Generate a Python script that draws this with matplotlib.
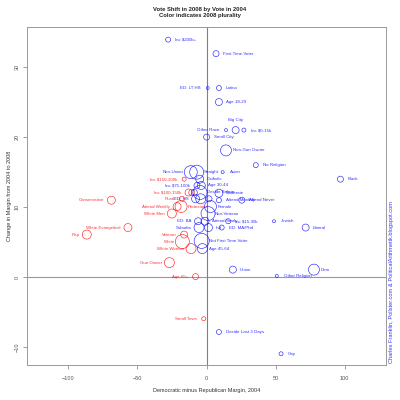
import matplotlib

matplotlib.use("Agg")
import matplotlib.pyplot as plt
import numpy as np

plt.rcParams["font.family"] = ["Liberation Sans", "DejaVu Sans"]

# groups: label, 2004 margin, 2008 shift, circle radius (px), 2008 plurality, label side
labels = [
    "Inc $200k+", "First Time Voter", "ED: LT HS", "Latino", "Age 18-29",
    "Big City", "Other Race", "Inc $0-15k", "Small City", "Non-Gun Owner",
    "No Religion", "Black", "Non-Union", "Straight", "Asian",
    "Inc $150-200k", "Catholic", "Inc $75-100k", "Age 30-44", "Inc $100-150k",
    "", "", "Decide Before", "Moderate", "Rural",
    "ED: HS", "", "", "Attend Monthly", "Attend Never",
    "Attend Weekly", "Protestant", "Female", "White Men", "Non-Veteran",
    "ED: BA", "Attend Yearly", "Inc $15-30k", "Jewish", "Suburbs",
    "Ind", "ED: MA/Phd", "Liberal", "Conservative", "White Evangelical",
    "Rep", "Veteran", "White", "Not First Time Voter", "White Women",
    "Age 45-64", "Gun Owner", "Union", "Dem", "Age 65+",
    "Other Religion", "Small Town", "Decide Last 3 Days", "Gay",
]
margin_2004 = [
    -27.8, 6.9, 0.9, 9.0, 9.0,
    21.1, 14.1, 27.1, 0.1, 14.1,
    35.7, 97.0, -11.4, -7.1, 11.7,
    -16.2, -4.9, -6.9, -3.8, -13.0,
    -10.7, -8.8, -4.7, 9.0, -17.7,
    -7.9, -4.2, 1.8, 9.0, 25.6,
    -21.3, -18.4, 2.9, -25.1, 1.1,
    -6.1, -1.1, 15.7, 48.9, -5.4,
    1.4, 11.0, 71.8, -68.9, -56.9,
    -86.7, -16.2, -17.5, -3.5, -11.2,
    -3.0, -26.9, 19.1, 77.8, -7.9,
    50.9, -2.0, 9.0, 54.0,
]
shift = [
    33.9, 31.9, 27.0, 27.0, 25.0,
    21.0, 21.0, 21.0, 20.0, 18.1,
    16.0, 14.0, 15.0, 15.0, 15.0,
    14.0, 14.0, 13.1, 13.1, 12.1,
    12.1, 12.1, 12.1, 12.0, 11.2,
    11.2, 11.2, 11.2, 11.0, 11.0,
    10.1, 10.1, 10.1, 9.1, 9.1,
    8.0, 8.0, 8.0, 8.0, 7.1,
    7.1, 7.1, 7.1, 11.0, 7.1,
    6.1, 6.1, 5.1, 5.2, 4.1,
    4.1, 2.1, 1.1, 1.1, 0.1,
    0.2, -5.9, -7.8, -10.9,
]
radius = [
    2.5, 3, 1.5, 2.5, 3.5,
    3.5, 1.5, 2, 3, 5.5,
    2.5, 3, 6.5, 7, 1.5,
    2, 4, 3, 4, 3.5,
    3, 3, 7, 4, 2.5,
    4, 5, 3, 2.5, 3,
    4, 6, 6, 4.5, 7,
    3.5, 4, 2.5, 1.5, 5,
    4, 2.5, 3.5, 4, 4,
    4.5, 3.5, 7, 7.5, 5,
    5, 5, 3.5, 5.5, 3,
    1.5, 2, 2.5, 2,
]
dem_won = [
    1, 1, 1, 1, 1,
    1, 1, 1, 1, 1,
    1, 1, 1, 1, 1,
    0, 1, 1, 1, 0,
    0, 1, 1, 1, 0,
    1, 1, 1, 1, 1,
    0, 0, 1, 0, 1,
    1, 1, 1, 1, 1,
    1, 1, 1, 0, 0,
    0, 0, 0, 1, 0,
    1, 0, 1, 1, 0,
    1, 0, 1, 1,
]
label_side = [
    "r", "r", "l", "r", "r",
    "t", "l", "r", "r", "r",
    "r", "r", "l", "r", "r",
    "l", "r", "l", "r", "l",
    "r", "r", "r", "r", "l",
    "l", "r", "r", "r", "r",
    "l", "r", "r", "l", "r",
    "l", "r", "r", "r", "l",
    "r", "r", "r", "l", "l",
    "l", "l", "l", "r", "l",
    "r", "l", "r", "r", "l",
    "r", "l", "r", "r",
]

x = np.array(margin_2004)
y = np.array(shift)
colors = np.where(np.array(dem_won) == 1, "#0000ff", "#ff0000")
# radius in pixels at 100 dpi -> marker area in points^2
sizes = (2 * np.array(radius) * 0.72) ** 2

fig = plt.figure(figsize=(4, 4), dpi=100)
ax = fig.add_axes([0.0675, 0.0875, 0.8975, 0.845])

ax.axhline(0, color="#999999", lw=0.8, zorder=1)
ax.axvline(0, color="#808080", lw=0.8, zorder=1)

ax.scatter(x, y, s=sizes, facecolors="none", edgecolors=colors, linewidths=0.45, alpha=0.85, zorder=2)

offsets = {"r": (5, 0, "left", "center"), "l": (-5, 0, "right", "center"), "t": (0, 5.5, "center", "bottom")}
for lab, xi, yi, c, side in zip(labels, x, y, colors, label_side):
    if not lab:
        continue
    dx, dy, ha, va = offsets[side]
    ax.annotate(lab, (xi, yi), xytext=(dx, dy), textcoords="offset points",
                ha=ha, va=va, fontsize=3.2, color=c, alpha=0.8)

ax.set_xlim(-130, 130)
ax.set_ylim(-12.5, 35.7)
ax.set_xticks([-100, -50, 0, 50, 100])
ax.set_yticks([-10, 0, 10, 20, 30])
ax.tick_params(axis="both", direction="out", length=3, width=0.5, colors="#777777",
               labelsize=4, labelcolor="#555555")
ax.tick_params(axis="x", pad=5)
ax.tick_params(axis="y", pad=2.5)
for lbl in ax.get_yticklabels():
    lbl.set_rotation(90)
    lbl.set_va("center")
for spine in ax.spines.values():
    spine.set_color("#999999")
    spine.set_linewidth(0.7)

ax.set_xlabel("Democratic minus Republican Margin, 2004", fontsize=4, color="#333333", labelpad=5)
ax.set_ylabel("Change in Margin from 2004 to 2008", fontsize=4, color="#333333", labelpad=2)

fig.text(0.5, 0.982, "Vote Shift in 2008 by Vote in 2004\nColor indicates 2008 plurality",
         ha="center", va="top", fontsize=4.2, fontweight="bold", color="#222222", linespacing=1.3)
fig.text(0.979, 0.0925, "Charles Franklin, Pollster.com & PoliticalArithmetik.blogspot.com",
         rotation=90, ha="center", va="bottom", fontsize=4.1, color="#3333ff")

fig.savefig("out.png", dpi=100)
